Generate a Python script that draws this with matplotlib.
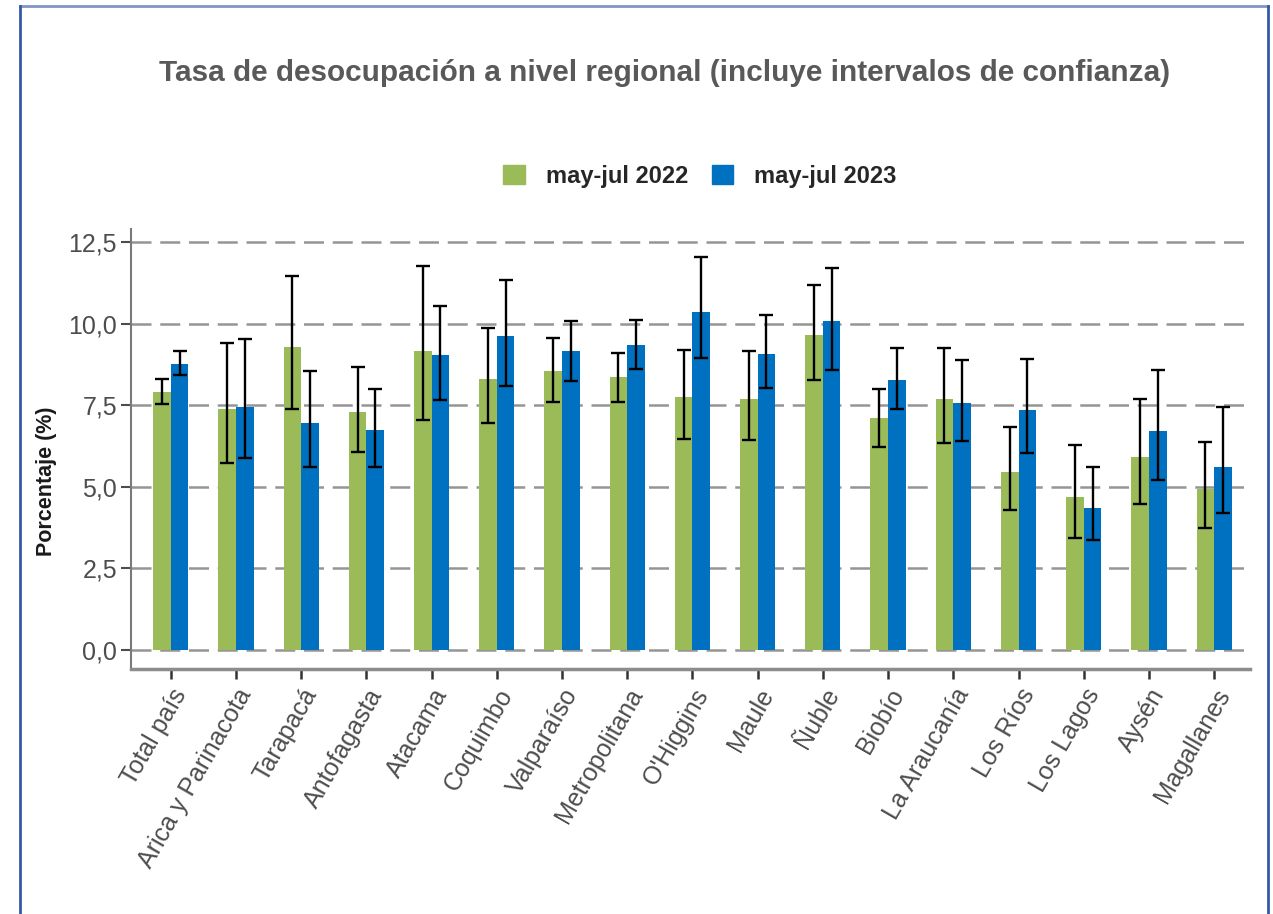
import numpy as np
import matplotlib
matplotlib.use("Agg")
import matplotlib.pyplot as plt
from matplotlib.lines import Line2D
from matplotlib.patches import Patch

regiones = ["Total país", "Arica y Parinacota", "Tarapacá", "Antofagasta", "Atacama",
            "Coquimbo", "Valparaíso", "Metropolitana", "O'Higgins", "Maule", "Ñuble",
            "Biobío", "La Araucanía", "Los Ríos", "Los Lagos", "Aysén", "Magallanes"]

# may-jul 2022: tasa, limite inferior, limite superior
tasa_2022 = [7.92, 7.38, 9.27, 7.28, 9.17, 8.31, 8.56, 8.36, 7.75, 7.70, 9.66, 7.12, 7.70, 5.47, 4.68, 5.93, 4.92]
li_2022 = [7.54, 5.73, 7.38, 6.07, 7.05, 6.95, 7.61, 7.59, 6.46, 6.44, 8.27, 6.23, 6.33, 4.29, 3.44, 4.47, 3.73]
ls_2022 = [8.31, 9.41, 11.47, 8.67, 11.77, 9.86, 9.55, 9.10, 9.20, 9.15, 11.19, 7.99, 9.25, 6.83, 6.28, 7.68, 6.38]

# may-jul 2023
tasa_2023 = [8.77, 7.46, 6.95, 6.74, 9.03, 9.61, 9.15, 9.35, 10.37, 9.07, 10.07, 8.28, 7.56, 7.36, 4.34, 6.71, 5.62]
li_2023 = [8.43, 5.87, 5.62, 5.62, 7.65, 8.10, 8.23, 8.61, 8.94, 8.02, 8.58, 7.38, 6.41, 6.03, 3.37, 5.21, 4.21]
ls_2023 = [9.17, 9.52, 8.56, 8.00, 10.55, 11.34, 10.09, 10.12, 12.03, 10.25, 11.70, 9.25, 8.89, 8.92, 5.62, 8.58, 7.44]

yticks = [0, 2.5, 5.0, 7.5, 10.0, 12.5]

verde = "#9BBB59"
azul = "#0070C0"
gris = "#4d4d4d"

plt.rcParams['font.family'] = ['Liberation Sans', 'DejaVu Sans']

fig = plt.figure(figsize=(12.73, 9.14), dpi=100)
ax = fig.add_axes([131 / 1273, 1 - 669 / 914, 1119 / 1273, 440 / 914])

x = np.arange(len(regiones))
w = 0.27
off = 0.135

for v in yticks:
    ax.axhline(v, color="#959595", lw=1.8, ls=(0, (8, 3.5)), zorder=1)

for vals, li, ls, col, dx in [(tasa_2022, li_2022, ls_2022, verde, -off),
                              (tasa_2023, li_2023, ls_2023, azul, off)]:
    vals = np.array(vals)
    ax.bar(x + dx, vals, w, color=col, zorder=2)
    err = [vals - np.array(li), np.array(ls) - vals]
    ax.errorbar(x + dx, vals, yerr=err, fmt='none', ecolor='black',
                elinewidth=1.7, capsize=5, capthick=1.7, zorder=3)

ax.set_xlim(-0.61, 16.55)
ax.set_ylim(-0.58, 12.9)
ax.set_yticks(yticks)
ax.set_yticklabels([f"{v:.1f}".replace(".", ",") for v in yticks])
ax.set_xticks(x)
ax.set_xticklabels(regiones, rotation=60, ha='right', rotation_mode='anchor')

ax.tick_params(axis='y', length=7, width=1.5, color=gris, labelsize=18, labelcolor=gris, pad=3)
ax.tick_params(axis='x', length=7, width=1.8, color="#333333", labelsize=18, labelcolor=gris, pad=4)

for s in ['top', 'right']:
    ax.spines[s].set_visible(False)
ax.spines['left'].set_color("#7a7a7a")
ax.spines['left'].set_linewidth(1.5)
ax.spines['bottom'].set_color("#8c8c8c")
ax.spines['bottom'].set_linewidth(2.5)

ax.set_ylabel("Porcentaje (%)", fontsize=15.5, fontweight='bold', color="#1a1a1a")
ax.yaxis.set_label_coords(-0.066, 0.427)

handles = [Patch(color=verde, label="may-jul 2022"), Patch(color=azul, label="may-jul 2023")]
leg = fig.legend(handles=handles, loc='center', bbox_to_anchor=(0.55, 1 - 176 / 914), ncol=2,
                 frameon=False, prop={'weight': 'bold', 'size': 17},
                 handlelength=0.9, handleheight=0.9, handletextpad=0.9, columnspacing=1.0)
for t in leg.get_texts():
    t.set_color("#262626")

fig.text(0.522, 1 - 73 / 914, "Tasa de desocupación a nivel regional (incluye intervalos de confianza)",
         ha='center', va='center', fontsize=21.4, fontweight='bold', color="#595959")

# marco azul
fig.add_artist(Line2D([20 / 1273, 1268 / 1273], [1 - 6 / 914] * 2, transform=fig.transFigure,
                      color="#7f95c2", lw=2))
fig.add_artist(Line2D([20 / 1273] * 2, [0, 1 - 6 / 914], transform=fig.transFigure,
                      color="#3558a8", lw=2))
fig.add_artist(Line2D([1268 / 1273] * 2, [0, 1 - 6 / 914], transform=fig.transFigure,
                      color="#3558a8", lw=2))

fig.savefig("out.png", dpi=100)
